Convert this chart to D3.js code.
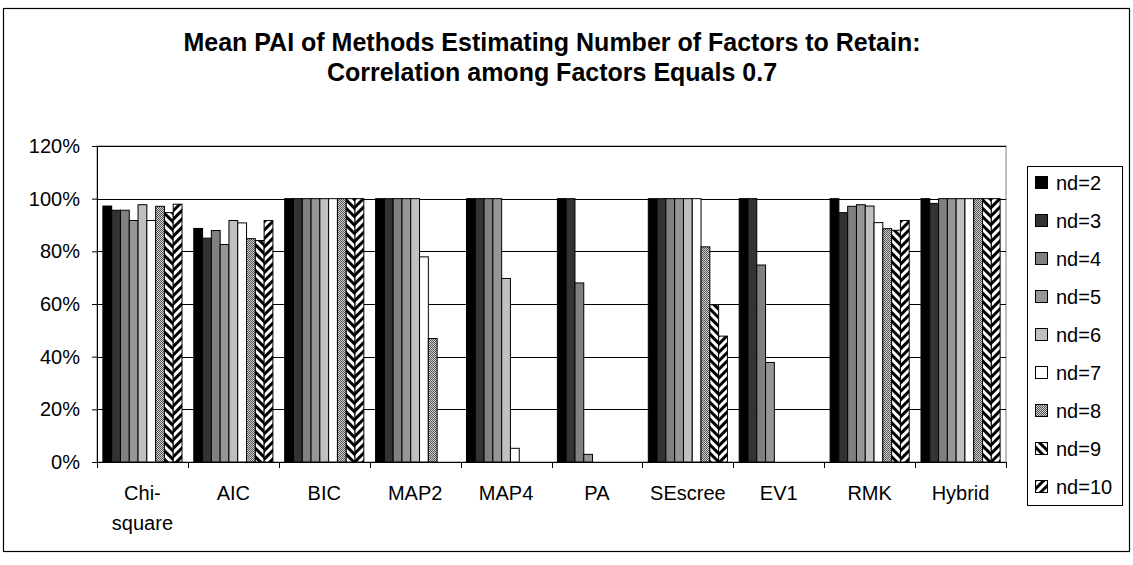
<!DOCTYPE html>
<html>
<head>
<meta charset="utf-8">
<script src="https://cdn.jsdelivr.net/npm/d3@7"></script>
<style>
  body { margin: 0; background: #fff; }
  svg { font-family: "Liberation Sans", Arial, sans-serif; }
</style>
</head>
<body>
<div class="chart"></div>
<script>
// chart values (percent)
var categories = ["Chi-square", "AIC", "BIC", "MAP2", "MAP4", "PA", "SEscree", "EV1", "RMK", "Hybrid"];
var seriesNames = ["nd=2", "nd=3", "nd=4", "nd=5", "nd=6", "nd=7", "nd=8", "nd=9", "nd=10"];
var nd2  = [97.2, 88.7, 100, 100,  100,  100,  100,  100,  100,  100];
var nd3  = [95.6, 85.0, 100, 100,  100,  100,  100,  100,  94.7, 98.2];
var nd4  = [95.6, 87.9, 100, 100,  100,  68.0, 100,  74.8, 97.1, 100];
var nd5  = [91.7, 82.6, 100, 100,  100,  2.9,  100,  37.8, 97.7, 100];
var nd6  = [97.7, 91.7, 100, 100,  69.7, 0,    100,  0,    97.2, 100];
var nd7  = [91.7, 90.8, 100, 77.9, 5.2,  0,    100,  0,    90.9, 100];
var nd8  = [97.1, 84.8, 100, 46.9, 0,    0,    81.7, 0,    88.6, 100];
var nd9  = [94.7, 84.1, 100, 0,    0,    0,    59.7, 0,    88.0, 100];
var nd10 = [97.9, 91.7, 100, 0,    0,    0,    47.8, 0,    91.7, 100];
var yTicks = [0, 20, 40, 60, 80, 100, 120];

var seriesValues = [nd2, nd3, nd4, nd5, nd6, nd7, nd8, nd9, nd10];
var fills = ["#000000", "#333333", "#808080", "#969696", "#c0c0c0", "#ffffff",
             "url(#pat-dots)", "url(#pat-down)", "url(#pat-up)"];

var width = 1133, height = 565;
var plot = {left: 97, right: 1006, top: 146, bottom: 462};

var svg = d3.select(".chart")
            .append("svg")
            .attr("width", width)
            .attr("height", height);

// patterns for the last three series
var defs = svg.append("defs");

var dots = defs.append("pattern")
               .attr("id", "pat-dots")
               .attr("width", 2).attr("height", 2)
               .attr("patternUnits", "userSpaceOnUse");
dots.append("rect").attr("width", 2).attr("height", 2).attr("fill", "#d0d0d0");
dots.append("rect").attr("width", 1).attr("height", 1).attr("fill", "#555");
dots.append("rect").attr("x", 1).attr("y", 1).attr("width", 1).attr("height", 1).attr("fill", "#555");

function stripes(id, angle) {
  var p = defs.append("pattern")
              .attr("id", id)
              .attr("width", 6).attr("height", 6)
              .attr("patternUnits", "userSpaceOnUse")
              .attr("patternTransform", "rotate(" + angle + ")");
  p.append("rect").attr("width", 6).attr("height", 6).attr("fill", "#fff");
  p.append("rect").attr("width", 3).attr("height", 6).attr("fill", "#000");
}
stripes("pat-down", -45);
stripes("pat-up", 45);

// outer border
svg.append("rect")
   .attr("x", 3.5).attr("y", 8.5)
   .attr("width", 1126).attr("height", 543)
   .attr("fill", "#fff")
   .attr("stroke", "#000")
   .attr("stroke-width", 1.2);

// title
var title = svg.append("text")
               .attr("text-anchor", "middle")
               .style("font-weight", "bold")
               .style("font-size", "25px");
title.append("tspan").attr("x", 552).attr("y", 51)
     .text("Mean PAI of Methods Estimating Number of Factors to Retain:");
title.append("tspan").attr("x", 552).attr("y", 81)
     .text("Correlation among Factors Equals 0.7");

// scales
var x0 = d3.scaleBand()
           .domain(categories)
           .range([plot.left, plot.right])
           .padding(0);

var x1 = d3.scaleBand()
           .domain(seriesNames)
           .range([0, x0.bandwidth()])
           .paddingInner(0)
           .paddingOuter(0.67);

var y = d3.scaleLinear()
          .domain([0, 120])
          .range([plot.bottom, plot.top]);

// plot area border + gridlines
svg.append("rect")
   .attr("x", plot.left).attr("y", plot.top)
   .attr("width", plot.right - plot.left)
   .attr("height", plot.bottom - plot.top)
   .attr("fill", "#fff")
   .attr("stroke", "#808080")
   .attr("stroke-width", 1);

svg.append("g")
   .selectAll("line")
   .data(yTicks.filter(function(t) { return t > 0; }))
   .enter()
   .append("line")
   .attr("x1", plot.left).attr("x2", plot.right)
   .attr("y1", function(d) { return Math.round(y(d)) + 0.5; })
   .attr("y2", function(d) { return Math.round(y(d)) + 0.5; })
   .attr("stroke", "#000")
   .attr("stroke-width", 1);

// bars
var groups = svg.append("g")
                .selectAll("g")
                .data(seriesNames)
                .enter()
                .append("g")
                .attr("fill", function(d, i) { return fills[i]; });

groups.selectAll("rect")
      .data(function(d, i) {
        return seriesValues[i].map(function(v, j) {
          return {series: d, cat: categories[j], value: v};
        }).filter(function(e) { return e.value > 0; });
      })
      .enter()
      .append("rect")
      .attr("x", function(d) { return x0(d.cat) + x1(d.series); })
      .attr("y", function(d) { return y(d.value); })
      .attr("width", x1.bandwidth())
      .attr("height", function(d) { return plot.bottom - y(d.value); })
      .attr("stroke", "#000")
      .attr("stroke-width", 1);

// y axis
var yAxis = svg.append("g")
               .attr("transform", "translate(" + plot.left + ",0)")
               .call(d3.axisLeft(y)
                       .tickValues(yTicks)
                       .tickSize(5)
                       .tickPadding(12)
                       .tickFormat(function(d) { return d + "%"; }));
yAxis.select(".domain").attr("stroke", "#000");
yAxis.selectAll("line").attr("stroke", "#000");
yAxis.selectAll("text")
     .style("font-size", "20px")
     .style("font-family", "'Liberation Sans', Arial, sans-serif")
     .attr("fill", "#000");

// x axis: ticks between categories
var xg = svg.append("g")
            .attr("transform", "translate(0," + plot.bottom + ")");
xg.append("line")
  .attr("x1", plot.left).attr("x2", plot.right)
  .attr("y1", 0.5).attr("y2", 0.5)
  .attr("stroke", "#000");
xg.selectAll(".tick")
  .data(categories.concat(["end"]))
  .enter()
  .append("line")
  .attr("class", "tick")
  .attr("x1", function(d, i) { return Math.round(plot.left + i * x0.step()) + 0.5; })
  .attr("x2", function(d, i) { return Math.round(plot.left + i * x0.step()) + 0.5; })
  .attr("y1", 0).attr("y2", 6)
  .attr("stroke", "#000");

var catLabels = xg.selectAll(".cat")
                  .data(categories)
                  .enter()
                  .append("text")
                  .attr("class", "cat")
                  .attr("text-anchor", "middle")
                  .style("font-size", "20px")
                  .attr("fill", "#000");
catLabels.each(function(d) {
  var t = d3.select(this);
  var cx = x0(d) + x0.bandwidth() / 2;
  var lines = d === "Chi-square" ? ["Chi-", "square"] : [d];
  lines.forEach(function(l, k) {
    t.append("tspan").attr("x", cx).attr("y", 38 + k * 30).text(l);
  });
});

// legend
var legend = svg.append("g");
legend.append("rect")
      .attr("x", 1027.5).attr("y", 166.5)
      .attr("width", 95).attr("height", 339)
      .attr("fill", "#fff")
      .attr("stroke", "#000");

var items = legend.selectAll(".item")
                  .data(seriesNames)
                  .enter()
                  .append("g")
                  .attr("class", "item")
                  .attr("transform", function(d, i) { return "translate(0," + (183 + i * 38) + ")"; });
items.append("rect")
     .attr("x", 1035.5).attr("y", -6.5)
     .attr("width", 12).attr("height", 12)
     .attr("fill", function(d, i) { return fills[i]; })
     .attr("stroke", "#000");
items.append("text")
     .attr("x", 1056).attr("y", 7)
     .style("font-size", "20px")
     .attr("fill", "#000")
     .text(function(d) { return d; });
</script>
</body>
</html>
